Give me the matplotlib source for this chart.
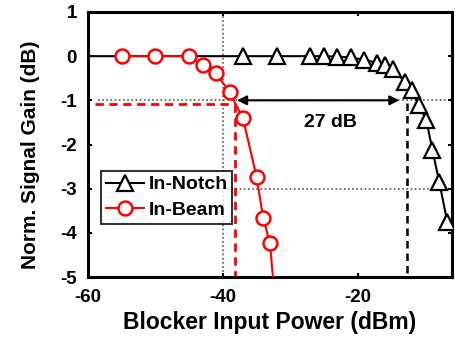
import numpy as np
import matplotlib
matplotlib.use("Agg")
import matplotlib.pyplot as plt

# In-Notch (black triangles); first point only anchors the line at the left edge
notch_x = [-60, -37, -32, -27, -25, -23, -21, -19, -17.2, -16, -14.8, -13, -12, -10.9, -9.8, -8.9, -7.9, -6.7]
notch_y = [0, 0, 0, 0, 0, -0.01, -0.03, -0.08, -0.15, -0.19, -0.3, -0.58, -0.77, -1.11, -1.45, -2.13, -2.84, -3.75]

# In-Beam (red circles); last point lies below the axis and is clipped
beam_x = [-55, -50, -45, -43, -41, -39, -37, -35, -34, -33, -32]
beam_y = [0, 0, 0, -0.2, -0.39, -0.81, -1.41, -2.73, -3.67, -4.24, -6.0]

x_ticks = [-60, -40, -20]
y_ticks = [-5, -4, -3, -2, -1, 0, 1]

plt.rcParams['font.family'] = ['Liberation Sans', 'DejaVu Sans']
plt.rcParams['font.weight'] = 'bold'
plt.rcParams['axes.unicode_minus'] = False

fig = plt.figure(figsize=(4.55, 3.41), dpi=100)
ax = fig.add_axes([88/455, 1-277/341, 364/455, 265/341])

# reference lines
ax.plot([-40, -40], [1, -5], ls=(0, (1, 1.5)), color='0.35', lw=1.2, zorder=1)
ax.plot([-58.5, -6], [-1, -1], ls=(0, (1, 1.5)), color='0.35', lw=1.2, zorder=1)
ax.plot([-40, -6], [-3, -3], ls=(0, (1, 1.5)), color='0.35', lw=1.2, zorder=1)
ax.plot([-59, -38.2], [-1.08, -1.08], ls=(0, (3, 2)), color='red', lw=2, zorder=2)
ax.plot([-38.2, -38.2], [-1.08, -5], ls=(0, (3, 2)), color='red', lw=2, zorder=2)
ax.plot([-12.7, -12.7], [-1.05, -5], ls=(0, (3, 2)), color='black', lw=1.8, zorder=2)

ax.plot(notch_x, notch_y, color='black', lw=1.5, marker='^', ms=11, mfc='white',
        mec='black', mew=1.6, markevery=list(range(1, len(notch_x))), label='In-Notch', zorder=3)
ax.plot(beam_x, beam_y, color='red', lw=1.5, marker='o', ms=10, mfc='white',
        mec='red', mew=1.8, label='In-Beam', zorder=4)

ax.annotate('', xy=(-13.4, -1), xytext=(-38.3, -1),
            arrowprops=dict(arrowstyle='<|-|>', color='black', lw=1.5, mutation_scale=14), zorder=5)
ax.text(-24, -1.5, '27 dB', ha='center', va='center', fontsize=14, fontweight='bold')

ax.set_xlim(-60, -6)
ax.set_ylim(-5, 1)
ax.set_xticks(x_ticks, [str(t) for t in x_ticks], fontweight='bold')
ax.set_yticks(y_ticks, [str(t) for t in y_ticks], fontweight='bold')
ax.tick_params(direction='in', length=3, width=1.5, top=True, right=True, labelsize=13.5)
ax.tick_params(axis='x', pad=9)
ax.tick_params(axis='y', pad=8)
for s in ax.spines.values():
    s.set_linewidth(2.2)

ax.set_xlabel('Blocker Input Power (dBm)', fontsize=16.5, fontweight='bold', labelpad=3)
ax.set_ylabel('Norm. Signal Gain (dB)', fontsize=15, fontweight='bold')
ax.yaxis.set_label_coords(-0.132, 0.46)

leg = ax.legend(loc='upper left', bbox_to_anchor=(0.035, 0.40), fontsize=14, frameon=True,
                fancybox=False, edgecolor='black', borderpad=0.25, handlelength=2.0,
                handletextpad=0.2, labelspacing=0.4, borderaxespad=0)
leg.get_frame().set_linewidth(1.5)

fig.savefig('out.png', dpi=100)
